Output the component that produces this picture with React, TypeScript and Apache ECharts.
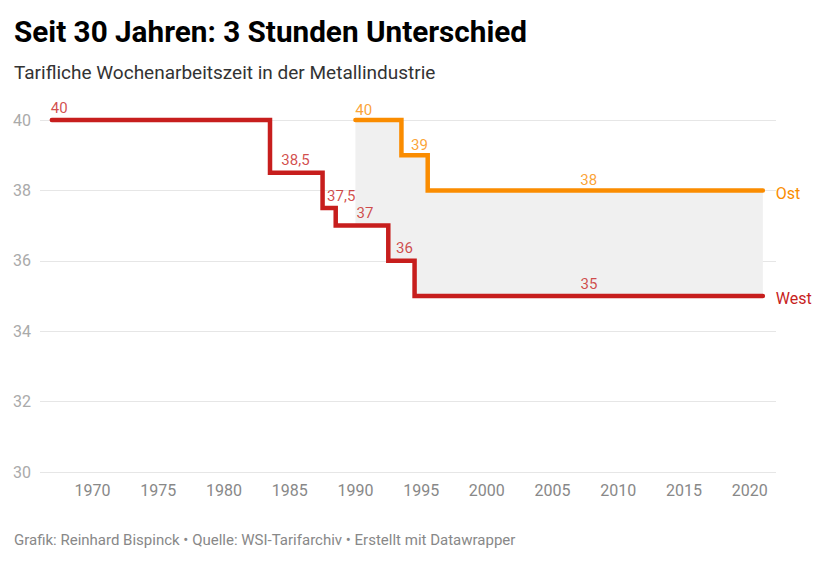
import React, { useEffect, useRef } from "react";
import * as echarts from "echarts";

const FONT = "Roboto, 'Noto Sans', sans-serif";
const RED = "#c71e1d";
const ORANGE = "#fa8c00";

// West: step starts (year) and hours
const westYears = [1966.9, 1983.5, 1987.5, 1988.5, 1992.5, 1994.5, 2021];
const westHours = [40, 38.5, 37.5, 37, 36, 35, 35];
// Ost
const ostYears = [1990, 1993.5, 1995.5, 2021];
const ostHours = [40, 39, 38, 38];
// Gap band between Ost (high) and West (low)
const gapYears = [1990, 1992.5, 1993.5, 1994.5, 1995.5, 2021];
const gapLow = [37, 36, 36, 35, 35, 35];
const gapHigh = [40, 40, 39, 39, 38, 38];
// value labels (label x position in years)
const westLabelYears = [1967.46, 1985.44, 1988.92, 1990.73, 1993.73, 2007.77];
const westLabelValues = [40, 38.5, 37.5, 37, 36, 35];
const ostLabelYears = [1990.63, 1994.87, 2007.75];
const ostLabelValues = [40, 39, 38];
// axis
const yTicks = [30, 32, 34, 36, 38, 40];
const xLabelStep = 5;

const title = "Seit 30 Jahren: 3 Stunden Unterschied";
const subtitle = "Tarifliche Wochenarbeitszeit in der Metallindustrie";
const footer = "Grafik: Reinhard Bispinck • Quelle: WSI-Tarifarchiv • Erstellt mit Datawrapper";

const fmt = (v: number) => String(v).replace(".", ",");

export default function App() {
  const ref = useRef<HTMLDivElement>(null);
  useEffect(() => {
    if (!ref.current) return;
    const chart = echarts.init(ref.current, null, { renderer: "svg" });
    const option: any = {
      animation: false,
      grid: { left: 40, right: 64, top: 120, bottom: 97 },
      graphic: [
        {
          type: "text", x: 14, y: 31,
          style: { text: title, fontFamily: FONT, fontSize: 29.7, fontWeight: "bold", fill: "#000", verticalAlign: "middle" },
        },
        {
          type: "text", x: 14, y: 72,
          style: { text: subtitle, fontFamily: FONT, fontSize: 19, fill: "#333", verticalAlign: "middle" },
        },
        {
          type: "text", x: 14, y: 540,
          style: { text: footer, fontFamily: FONT, fontSize: 15, fill: "#888", verticalAlign: "middle" },
        },
      ],
      xAxis: {
        type: "value", min: 1966, max: 2022, interval: 1,
        axisLine: { show: false }, axisTick: { show: false }, splitLine: { show: false },
        axisLabel: {
          formatter: (v: number) => (v % xLabelStep === 0 ? String(v) : ""),
          color: "#888", fontSize: 16, fontFamily: FONT, margin: 10,
        },
      },
      yAxis: {
        type: "value", min: yTicks[0], max: yTicks[yTicks.length - 1], interval: 2,
        axisLine: { show: false }, axisTick: { show: false },
        splitLine: { lineStyle: { color: "#e6e6e6", width: 1 } },
        axisLabel: { color: "#aaa", fontSize: 16, fontFamily: FONT, margin: 9 },
      },
      series: [
        {
          type: "custom",
          silent: true,
          z: 1,
          data: gapYears.map((x, i) => [x, gapLow[i], gapHigh[i]]),
          encode: { x: 0, y: [1, 2] },
          clip: false,
          renderItem: (params: any, api: any) => {
            if (params.dataIndex !== 0) return null;
            const pts: number[][] = [];
            for (let i = 0; i < gapYears.length; i++) {
              pts.push(api.coord([gapYears[i], gapHigh[i]]));
              if (i < gapYears.length - 1) pts.push(api.coord([gapYears[i + 1], gapHigh[i]]));
            }
            for (let i = gapYears.length - 1; i >= 0; i--) {
              if (i < gapYears.length - 1) pts.push(api.coord([gapYears[i + 1], gapLow[i]]));
              pts.push(api.coord([gapYears[i], gapLow[i]]));
            }
            return { type: "polygon", shape: { points: pts }, style: { fill: "#f0f0f0" } };
          },
        },
        {
          name: "West", type: "line", step: "end", z: 3, clip: false,
          data: westYears.map((x, i) => [x, westHours[i]]),
          showSymbol: false, silent: true,
          lineStyle: { color: RED, width: 4.5, cap: "round", join: "miter" },
          endLabel: { show: true, formatter: "West", color: RED, fontSize: 16, fontWeight: "normal", fontFamily: FONT, distance: 13, offset: [0, 2] },
        },
        {
          name: "Ost", type: "line", step: "end", z: 3, clip: false,
          data: ostYears.map((x, i) => [x, ostHours[i]]),
          showSymbol: false, silent: true,
          lineStyle: { color: ORANGE, width: 4.5, cap: "round", join: "miter" },
          endLabel: { show: true, formatter: "Ost", color: ORANGE, fontSize: 16, fontWeight: "normal", fontFamily: FONT, distance: 13, offset: [0, 3] },
        },
        {
          type: "scatter", z: 4, symbolSize: 0, silent: true, clip: false,
          data: westLabelYears.map((x, i) => [x, westLabelValues[i]]),
          label: {
            show: true, position: "top", distance: 5, color: RED, fontSize: 15, fontFamily: FONT,
            formatter: (p: any) => fmt(p.value[1]),
          },
        },
        {
          type: "scatter", z: 4, symbolSize: 0, silent: true, clip: false,
          data: ostLabelYears.map((x, i) => [x, ostLabelValues[i]]),
          label: {
            show: true, position: "top", distance: 3, color: ORANGE, fontSize: 15, fontFamily: FONT,
            formatter: (p: any) => fmt(p.value[1]),
          },
        },
      ],
    };
    chart.setOption(option);
    return () => chart.dispose();
  }, []);
  return <div ref={ref} style={{ position: "absolute", left: 0, top: 0, width: 840, height: 569 }} />;
}
